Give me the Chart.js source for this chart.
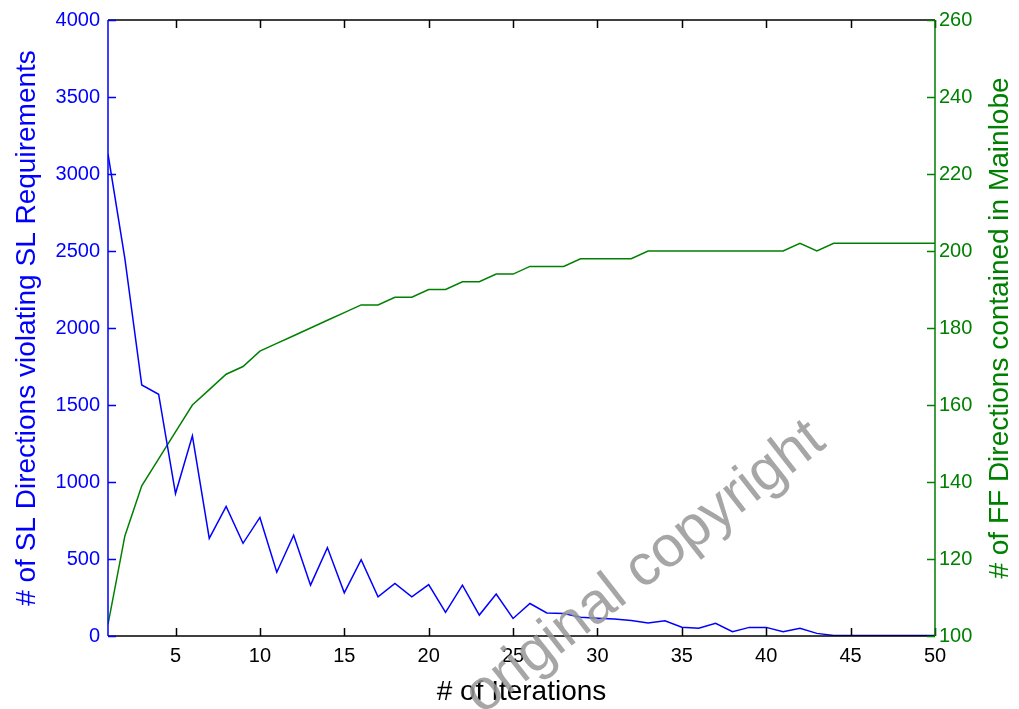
<!DOCTYPE html>
<html>
<head>
<meta charset="utf-8">
<script src="https://cdn.jsdelivr.net/npm/chart.js@4.4.1/dist/chart.umd.min.js"></script>
<style>
  html, body { margin: 0; padding: 0; background: #fff; }
  #wrap { width: 1019px; height: 709px; position: relative; }
</style>
</head>
<body>
<div id="wrap"><canvas id="chart"></canvas></div>
<script>
// iteration number (x axis)
const iterations = [
  1, 2, 3, 4, 5, 6, 7, 8, 9, 10,
  11, 12, 13, 14, 15, 16, 17, 18, 19, 20,
  21, 22, 23, 24, 25, 26, 27, 28, 29, 30,
  31, 32, 33, 34, 35, 36, 37, 38, 39, 40,
  41, 42, 43, 44, 45, 46, 47, 48, 49, 50
];
// # of SL directions violating SL requirements (left axis)
const slViolations = [
  3130, 2450, 1630, 1570, 925, 1300, 634, 841, 602, 770,
  414, 654, 330, 574, 280, 496, 254, 341, 254, 334,
  153, 330, 136, 272, 114, 211, 150, 146, 122, 115,
  110, 100, 84, 99, 57, 50, 82, 28, 56, 56,
  28, 50, 17, 4, 3, 3, 3, 3, 3, 3
];
// # of FF directions contained in mainlobe (right axis)
const ffMainlobe = [
  103, 126, 139, 146, 153, 160, 164, 168, 170, 174,
  176, 178, 180, 182, 184, 186, 186, 188, 188, 190,
  190, 192, 192, 194, 194, 196, 196, 196, 198, 198,
  198, 198, 200, 200, 200, 200, 200, 200, 200, 200,
  200, 202, 200, 202, 202, 202, 202, 202, 202, 202
];
const xTicks = [5, 10, 15, 20, 25, 30, 35, 40, 45, 50];

const BLUE = "#0000ff";
const GREEN = "#008000";
const FONT = "'Liberation Sans', Arial, sans-serif";
const rightTitle = "# of FF Directions contained in Mainlobe";

// MATLAB style box with inward ticks
const boxPlugin = {
  id: "box",
  afterDatasetsDraw(chart) {
    const { ctx, chartArea: a, scales } = chart;
    const len = 8;
    ctx.save();
    ctx.lineWidth = 1.5;

    ctx.strokeStyle = "#000";
    ctx.beginPath();
    ctx.moveTo(a.left, a.top);
    ctx.lineTo(a.right, a.top);
    ctx.moveTo(a.left, a.bottom);
    ctx.lineTo(a.right, a.bottom);
    scales.x.ticks.forEach((t) => {
      const px = Math.round(scales.x.getPixelForValue(t.value)) + 0.5;
      ctx.moveTo(px, a.bottom);
      ctx.lineTo(px, a.bottom - len);
      ctx.moveTo(px, a.top);
      ctx.lineTo(px, a.top + len);
    });
    ctx.stroke();

    ctx.strokeStyle = BLUE;
    ctx.beginPath();
    ctx.moveTo(a.left, a.top);
    ctx.lineTo(a.left, a.bottom);
    scales.y.ticks.forEach((t) => {
      const py = Math.round(scales.y.getPixelForValue(t.value)) + 0.5;
      ctx.moveTo(a.left, py);
      ctx.lineTo(a.left + len, py);
    });
    ctx.stroke();

    ctx.strokeStyle = GREEN;
    ctx.beginPath();
    ctx.moveTo(a.right, a.top);
    ctx.lineTo(a.right, a.bottom);
    scales.y1.ticks.forEach((t) => {
      const py = Math.round(scales.y1.getPixelForValue(t.value)) + 0.5;
      ctx.moveTo(a.right, py);
      ctx.lineTo(a.right - len, py);
    });
    ctx.stroke();
    ctx.restore();
  },
  afterDraw(chart) {
    const { ctx, chartArea: a } = chart;
    // right axis title, reading bottom to top like the left one
    ctx.save();
    ctx.translate(1000, (a.top + a.bottom) / 2);
    ctx.rotate(-Math.PI / 2);
    ctx.fillStyle = GREEN;
    ctx.font = "28px " + FONT;
    ctx.textAlign = "center";
    ctx.textBaseline = "middle";
    ctx.fillText(rightTitle, 0, 0);
    ctx.restore();

    ctx.save();
    ctx.translate(645, 568);
    ctx.rotate(-38 * Math.PI / 180);
    ctx.fillStyle = "rgba(150,150,150,0.85)";
    ctx.font = "58px " + FONT;
    ctx.textAlign = "center";
    ctx.textBaseline = "middle";
    ctx.fillText("original copyright", 0, 0);
    ctx.restore();
  },
};

const plain = (v) => String(v);

const config = {
  type: "line",
  data: {
    labels: iterations,
    datasets: [
      {
        label: "SL violations",
        data: iterations.map((x, i) => ({ x: x, y: slViolations[i] })),
        borderColor: BLUE,
        borderWidth: 1.5,
        pointRadius: 0,
        tension: 0,
        yAxisID: "y",
      },
      {
        label: "FF in mainlobe",
        data: iterations.map((x, i) => ({ x: x, y: ffMainlobe[i] })),
        borderColor: GREEN,
        borderWidth: 1.5,
        pointRadius: 0,
        tension: 0,
        yAxisID: "y1",
      },
    ],
  },
  options: {
    responsive: true,
    maintainAspectRatio: false,
    animation: false,
    layout: { padding: { top: 18, left: 0, right: 0, bottom: 0 } },
    plugins: { legend: { display: false }, tooltip: { enabled: false } },
    scales: {
      x: {
        type: "linear",
        min: 1,
        max: 50,
        afterBuildTicks: (scale) => {
          scale.ticks = xTicks.map((v) => ({ value: v }));
        },
        afterFit: (scale) => { scale.height = 73; },
        grid: { display: false, drawTicks: false },
        border: { display: false },
        ticks: { color: "#000", font: { family: FONT, size: 20 }, padding: 8, maxRotation: 0, autoSkip: false, callback: plain },
        title: { display: true, text: "# of Iterations", color: "#000", font: { family: FONT, size: 28 }, padding: { top: 0, bottom: 0 } },
      },
      y: {
        position: "left",
        min: 0,
        max: 4000,
        afterFit: (scale) => { scale.width = 108; },
        grid: { display: false, drawTicks: false },
        border: { display: false },
        ticks: { stepSize: 500, color: BLUE, font: { family: FONT, size: 20 }, padding: 8, callback: plain },
        title: { display: true, text: "# of SL Directions violating SL Requirements", color: BLUE, font: { family: FONT, size: 28 }, padding: { top: 10, bottom: 0 } },
      },
      y1: {
        position: "right",
        min: 100,
        max: 260,
        afterFit: (scale) => { scale.width = 84; },
        grid: { display: false, drawTicks: false },
        border: { display: false },
        ticks: { stepSize: 20, color: GREEN, font: { family: FONT, size: 20 }, padding: 4, callback: plain },
      },
    },
  },
  plugins: [boxPlugin],
};

new Chart(document.getElementById("chart"), config);
</script>
</body>
</html>
